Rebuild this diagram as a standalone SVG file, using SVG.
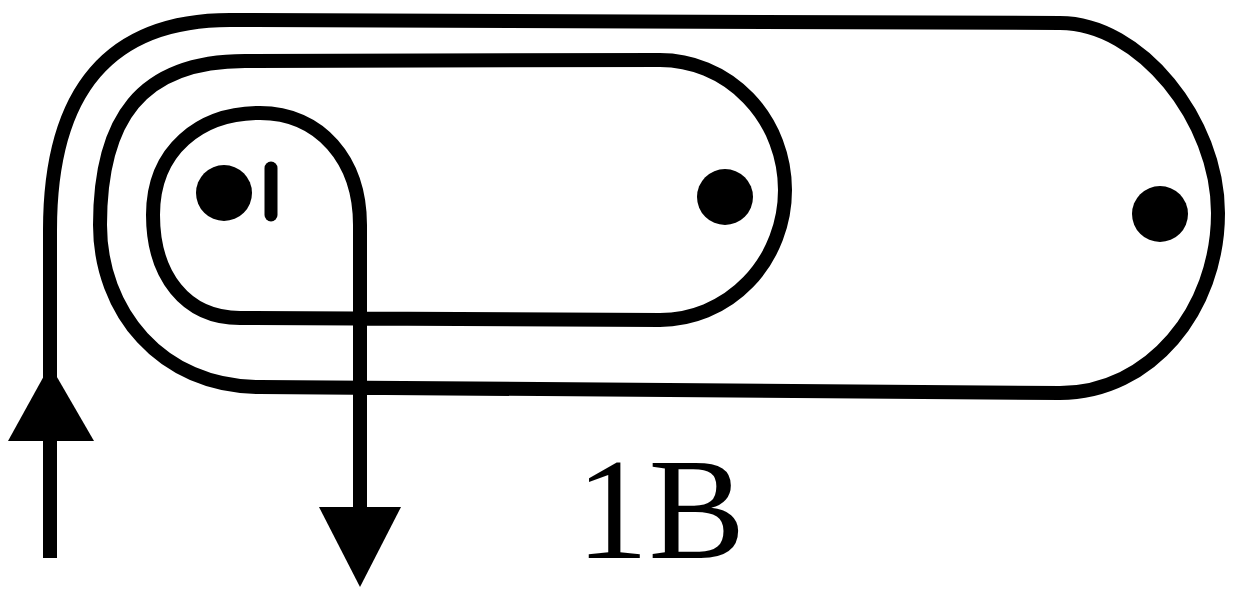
<svg xmlns="http://www.w3.org/2000/svg" width="1233" height="592" viewBox="0 0 1233 592">
<style>
.path{fill:none;stroke:#000;stroke-width:14;stroke-linejoin:round}
.dot{fill:#000}
.head{fill:#000}
.tick{stroke:#000;stroke-width:13;stroke-linecap:round}
.label{font-family:"Liberation Serif","Times New Roman",serif;font-size:145px;fill:#000}
</style>
<rect width="1233" height="592" fill="#fff"/>
<g id="connectors">
<path class="path" d="M50,558 L50,230 C50,90 110,20 230,20 L1060,23 C1140,23 1218,120 1218,213 C1218,310 1150,393 1060,393 L260,387 C160,387 100,310 100,225 C100,120 140,61 245,61 L660,60 A125,130 0 0 1 660,320 L240,318 C185,318 153,275 153,215 C153,150 200,113 260,113 C320,113 360,160 360,225 L360,510"/>
<polygon class="head" points="50,365 8,441 94,441"/>
<polygon class="head" points="319,507 401,507 360,587"/>
</g>
<g id="dot1"><circle class="dot" cx="224" cy="193" r="28"/><line class="tick" x1="271" y1="168" x2="271" y2="215"/></g>
<g id="dot2"><circle class="dot" cx="725" cy="197" r="28"/></g>
<g id="dot3"><circle class="dot" cx="1160" cy="214" r="28"/></g>
<g id="label"><text class="label" x="576" y="558">1B</text></g>
</svg>
